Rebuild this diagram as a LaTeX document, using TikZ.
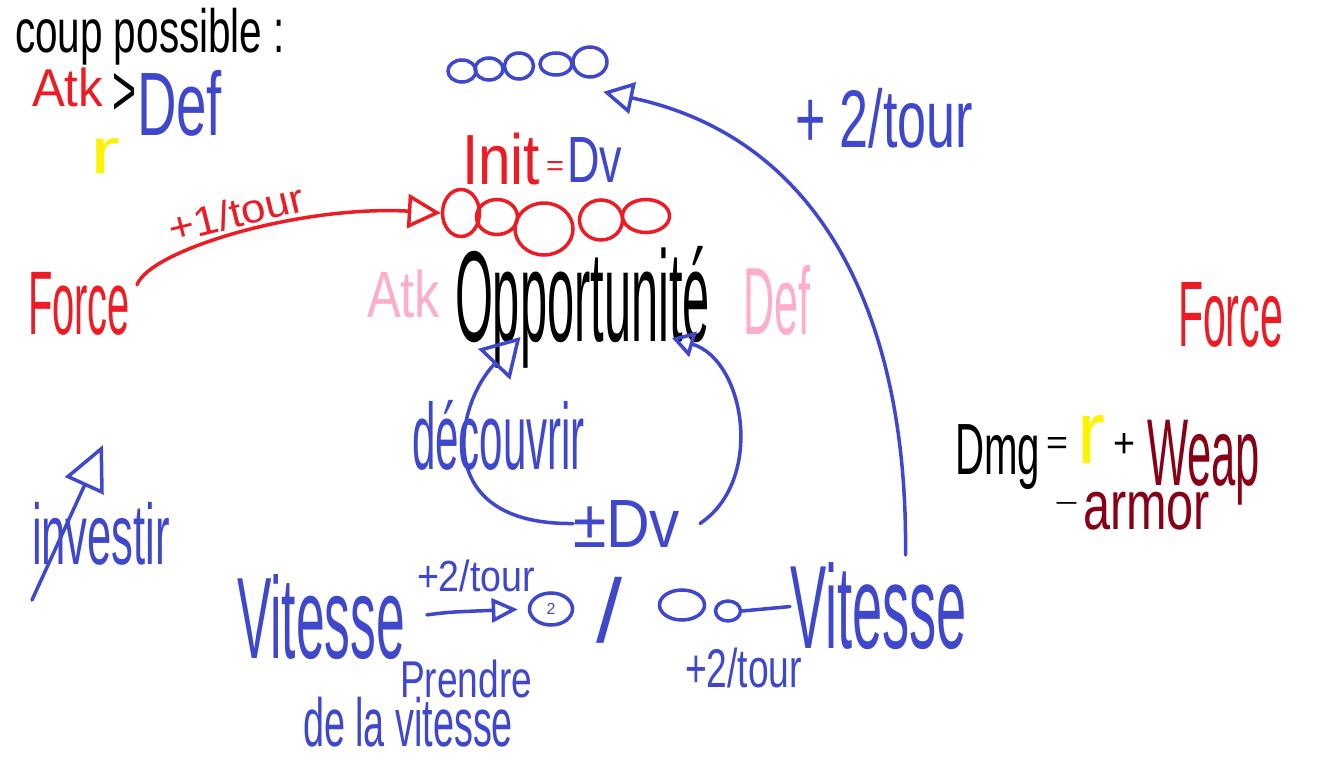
\documentclass[tikz,border=0pt]{standalone}
\usepackage{fontspec}
\setmainfont{Liberation Sans}
\usetikzlibrary{arrows.meta,shapes.geometric,calc}
\definecolor{pred}{HTML}{ED1C24}
\definecolor{pblue}{HTML}{3F48CC}
\definecolor{ppink}{HTML}{FFAEC9}
\definecolor{pyellow}{HTML}{FFF200}
\definecolor{pdark}{HTML}{880015}
\newcommand{\fb}[3]{\resizebox*{#1pt}{#2pt}{#3}}
\tikzset{
  txt/.style={inner sep=0pt, outer sep=0pt, anchor=north west},
  pen/.style={line width=3.5pt, line cap=round, line join=round},
  redline/.style={pen, draw=pred},
  blueline/.style={pen, draw=pblue},
  rc/.style={ellipse, draw=pred, line width=3.5pt, inner sep=0pt},
  bc/.style={ellipse, draw=pblue, line width=3.5pt, inner sep=0pt, text=pblue},
}
\begin{document}
\begin{tikzpicture}[x=1pt,y=-1pt]
\fill[white] (0,0) rectangle (1333,759);
\useasboundingbox (0,0) rectangle (1333,759);

% top-left legend
\node[txt] (coup) at (15,8) {\fb{270}{57}{coup possible :}};
\node[txt, text=pred] (atkA) at (32,68) {\fb{71}{39}{Atk}};
\node[txt] (gt) at (112,73) {\fb{24}{42}{>}};
\node[txt, text=pblue] (defA) at (137,70) {\fb{85}{66}{Def}};
\node[txt, text=pyellow] (rA) at (90,138) {\fb{30}{35}{r}};

% blue circle row
\node[bc, minimum width=28pt, minimum height=22pt] (b1) at (462,71) {};
\node[bc, minimum width=28pt, minimum height=22pt] (b2) at (489,69) {};
\node[bc, minimum width=29pt, minimum height=26pt] (b3) at (519,66) {};
\node[bc, minimum width=32pt, minimum height=22pt] (b4) at (556,64) {};
\node[bc, minimum width=34pt, minimum height=30pt] (b5) at (590,62) {};

% Init = Dv
\node[txt, text=pred] (init) at (462,133) {\fb{78}{52}{Init}};
\node[txt, text=pred] (eqI) at (546,162) {\fb{18}{14}{=}};
\node[txt, text=pblue] (dvI) at (567,137) {\fb{55}{45}{Dv}};

% red circle row
\node[rc, minimum width=37pt, minimum height=47pt] (c1) at (461,213) {};
\node[rc, minimum width=41pt, minimum height=35pt] (c2) at (497,217) {};
\node[rc, minimum width=58pt, minimum height=52pt] (c3) at (544,229) {};
\node[rc, minimum width=43pt, minimum height=40pt] (c4) at (601,220) {};
\node[rc, minimum width=47pt, minimum height=33pt] (c5) at (646,216) {};

% middle row
\node[txt, text=pred] (forceL) at (28,272) {\fb{102}{63}{Force}};
\node[txt, text=ppink] (atkB) at (367,270) {\fb{73}{48}{Atk}};
\node[txt] (opp) at (455,246) {\fb{255}{122}{Opportunité}};
\node[txt, text=ppink] (defB) at (743,265) {\fb{67}{70}{Def}};
\node[txt, text=pred] (forceR) at (1178,282) {\fb{105}{65}{Force}};
\node[inner sep=0pt, text=pred, rotate=14] (plusA) at (236,213) {\fb{138}{30}{+1/tour}};

\node[txt, text=pblue] (plusT) at (795,88) {\fb{178}{60}{+ 2/tour}};

% loop
\node[txt, text=pblue] (decouv) at (412,400) {\fb{173}{70}{découvrir}};
\node[txt, text=pblue] (pmDv) at (573,500) {\fb{107}{47}{±Dv}};

% investir
\node[txt, text=pblue] (invest) at (32,502) {\fb{138}{63}{investir}};
\coordinate (invA) at (32,600);
\coordinate (invB) at (103,445);

% damage formula
\node[txt] (dmg) at (955,425) {\fb{85}{65}{Dmg}};
\node[txt] (eqD) at (1046,437) {\fb{22}{17}{=}};
\node[txt, text=pyellow] (rB) at (1077,415) {\fb{28}{48}{r}};
\node[txt] (plusD) at (1113,433) {\fb{22}{24}{+}};
\node[txt, text=pdark] (weap) at (1147,420) {\fb{113}{85}{Weap}};
\node[txt] (minus) at (1053,502) {\fb{27}{7}{-}};
\node[txt, text=pdark] (armor) at (1083,492) {\fb{127}{38}{armor}};

% bottom
\node[txt, text=pblue] (vitL) at (237,575) {\fb{168}{85}{Vitesse}};
\node[txt, text=pblue] (plusB) at (417,560) {\fb{118}{32}{+2/tour}};
\node[bc, minimum width=43pt, minimum height=32pt] (sc1) at (551,609) {\fontsize{16}{16}\selectfont 2};
\node[txt, text=pblue] (prendre) at (400,660) {\fb{132}{38}{Prendre}};
\node[txt, text=pblue] (dela) at (303,697) {\fb{210}{50}{de la vitesse}};
\node[txt, text=pblue] (slash) at (596,577) {\fb{26}{66}{/}};
\node[bc, minimum width=45pt, minimum height=30pt] (e1) at (682,605) {};
\node[bc, minimum width=25pt, minimum height=20pt] (e2) at (728,611) {};
\node[txt, text=pblue] (vitR) at (790,563) {\fb{177}{87}{Vitesse}};
\node[txt, text=pblue] (plusC) at (685,648) {\fb{117}{40}{+2/tour}};

% connectors
\draw[redline, -{Triangle[open,length=33pt,width=34pt]}, shorten <=20pt]
  (forceL.east) .. controls (150,250) and (300,205) .. (c1.west);
\draw[blueline, -{Triangle[open,length=30pt,width=32pt]}]
  ([xshift=27pt,yshift=8pt]vitR.north) .. controls (908,330) and (830,140) .. ([yshift=-18pt]b5.south east);
\draw[blueline, -{Triangle[open,length=38pt,width=44pt]}]
  (pmDv.west) .. controls (430,525) and (455,405) .. ([shift={(-62pt,31pt)}]opp.south);
\draw[blueline, -{Triangle[open,length=22pt,width=26pt]}]
  ([xshift=20pt]pmDv.east) .. controls (765,480) and (745,360) .. ([shift={(-38pt,30pt)}]opp.south east);
\draw[blueline, -{Triangle[open,length=45pt,width=42pt]}] (invA) -- (invB);
\draw[blueline, -{Triangle[open,length=26pt,width=24pt]}, shorten <=22pt, shorten >=10pt]
  (vitL.east) .. controls (450,612) .. (sc1.west);
\draw[blueline] (vitR.west) -- (e2.east);
\end{tikzpicture}
\end{document}
